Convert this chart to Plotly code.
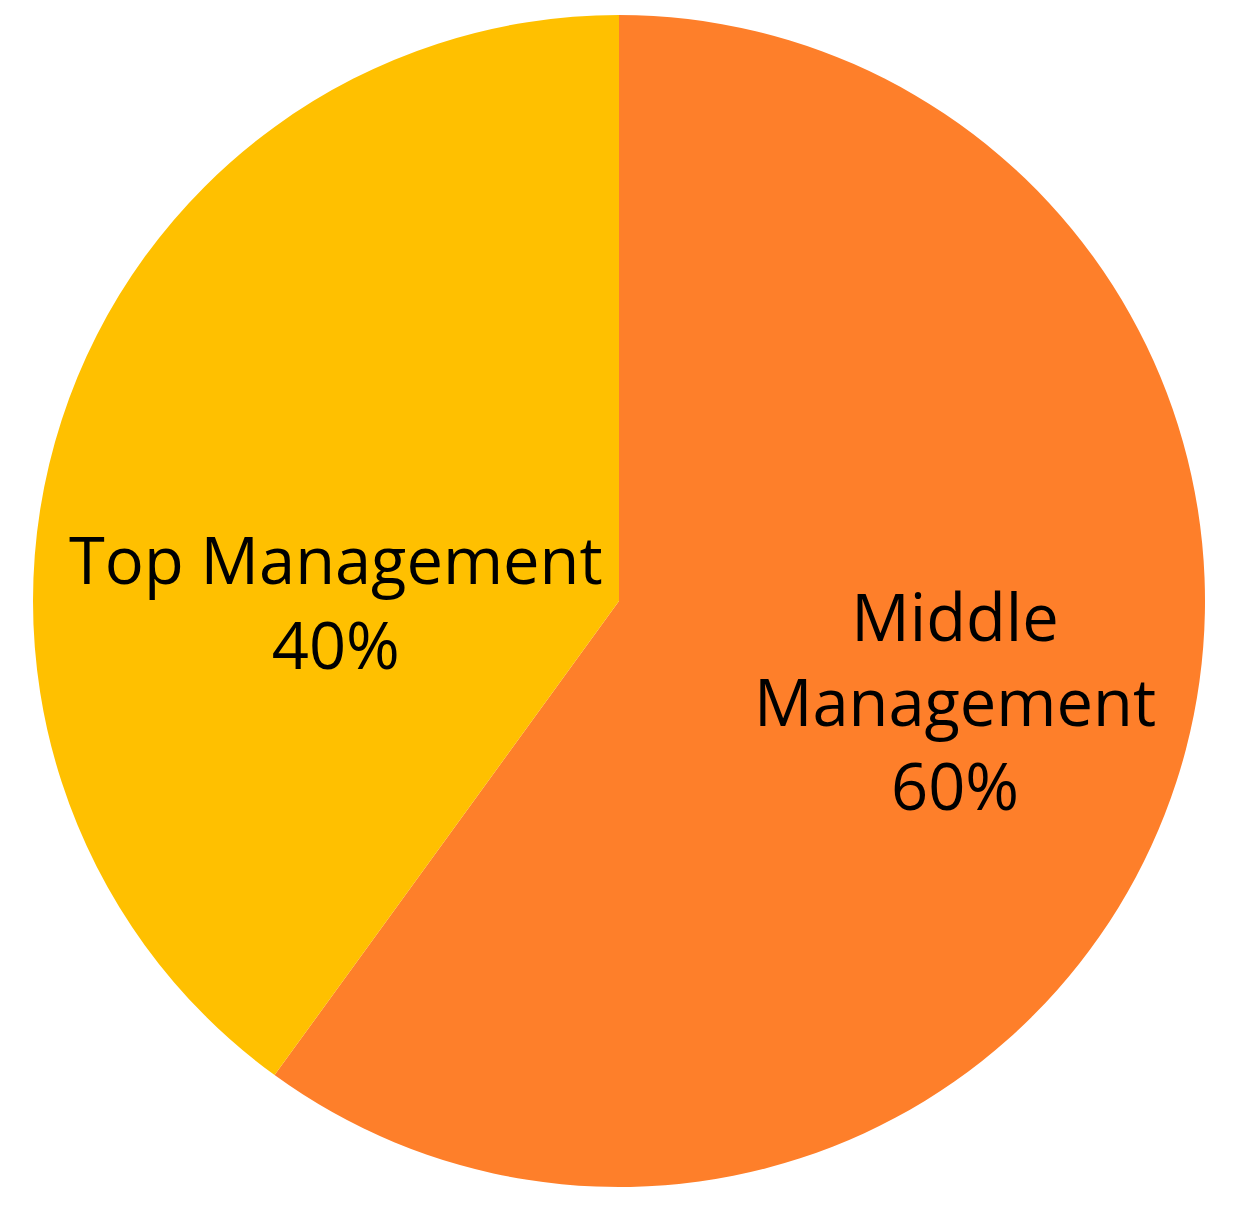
import plotly.graph_objects as go

categories = ["Middle Management", "Top Management"]
values = [60, 40]
colors = ["#FE7F2A", "#FFC000"]
label_lines = ["Middle<br>Management<br>60%", "Top Management<br>40%"]
label_pos = [(0.7867, 0.4155), (0.2585, 0.5)]

fig = go.Figure(go.Pie(
    labels=categories, values=values, sort=False, direction="clockwise",
    rotation=0, marker=dict(colors=colors, line=dict(width=0)),
    textinfo="none", hoverinfo="label+percent", showlegend=False,
))

for txt, (x, y) in zip(label_lines, label_pos):
    fig.add_annotation(text=txt, x=x, y=y, xref="paper", yref="paper",
                       showarrow=False, xanchor="center", yanchor="middle",
                       font=dict(family="Open Sans", size=65, color="#000000"))

fig.update_layout(width=1243, height=1222, margin=dict(l=25, r=46, t=7, b=43),
                  paper_bgcolor="white", plot_bgcolor="white")
fig.write_html("out.html")
